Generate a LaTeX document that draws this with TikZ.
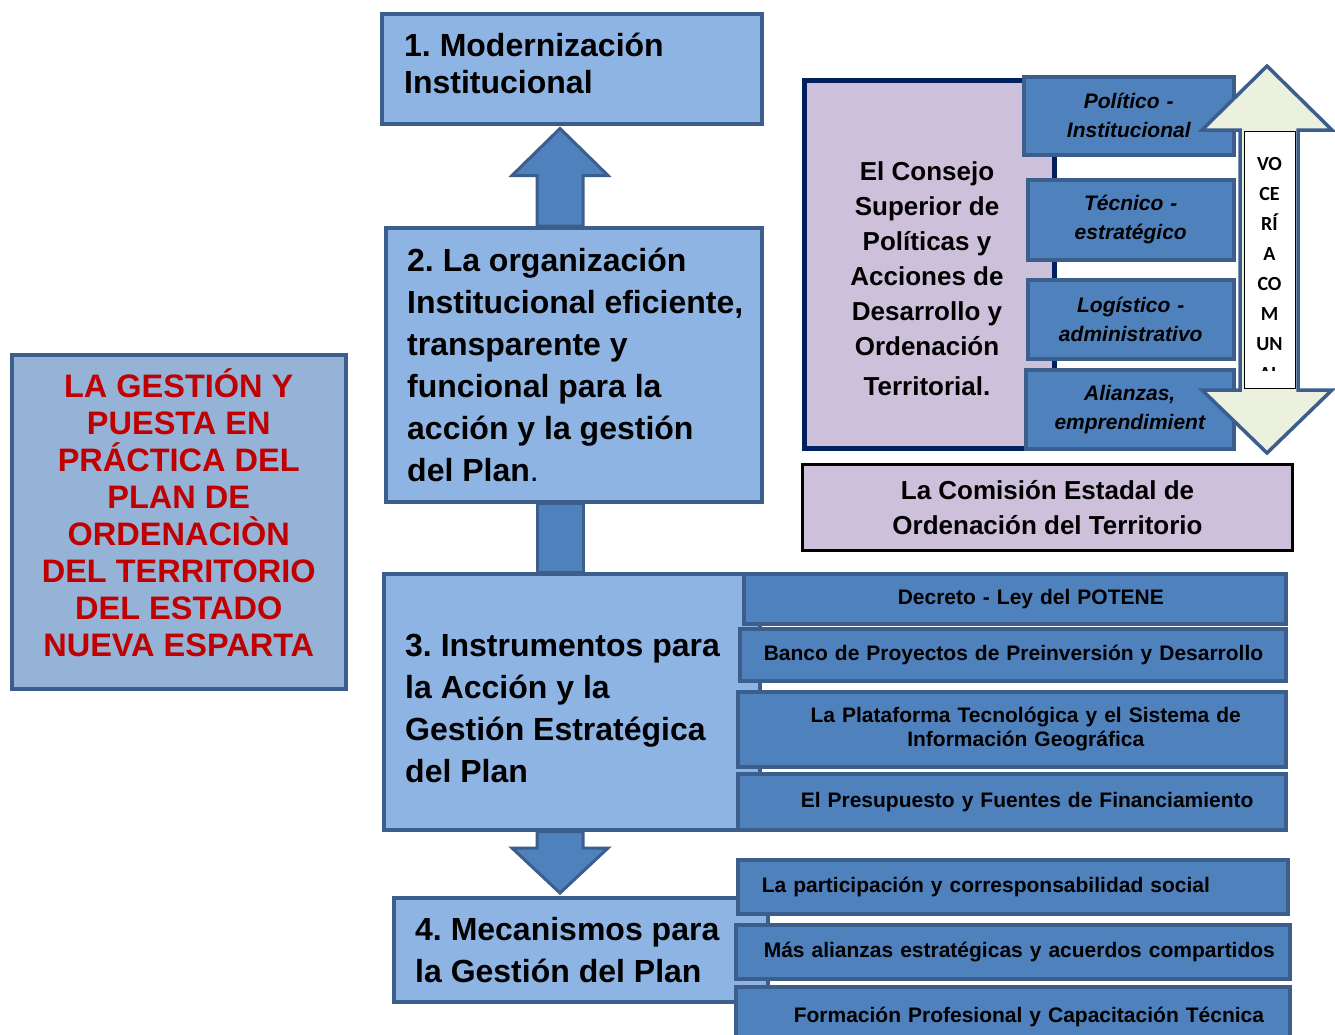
\documentclass[tikz,border=0pt]{standalone}
\usepackage{fontspec}
\setmainfont{Liberation Sans}
\newfontfamily\voicefont{Carlito}
\usetikzlibrary{calc}
\frenchspacing

\definecolor{paleblue}{HTML}{8EB4E3}
\definecolor{greyblue}{HTML}{95B3D7}
\definecolor{midblue}{HTML}{4F81BD}
\definecolor{edgeblue}{HTML}{3B5E8C}
\definecolor{lilac}{HTML}{CCC0DA}
\definecolor{navy}{HTML}{002060}
\definecolor{darkred}{HTML}{C00000}
\definecolor{palegreen}{HTML}{EBF1DE}

\tikzset{
  stage/.style={draw=edgeblue, fill=paleblue, line width=3.5pt, anchor=north west, inner sep=0pt},
  stagetext/.style={anchor=west, align=left, inner sep=0pt, font=\bfseries\fontsize{32}{42}\selectfont},
  subbox/.style={draw=edgeblue, fill=midblue, line width=3.5pt, anchor=north west, inner xsep=0pt, inner ysep=0pt, align=left, font=\bfseries\fontsize{21}{24}\selectfont},
  sidebox/.style={subbox, align=center, font=\bfseries\itshape\fontsize{21}{29}\selectfont},
  blockarrow/.style={draw=edgeblue, fill=midblue, line width=3pt, line join=miter},
}

\begin{document}
\begin{tikzpicture}[x=1pt, y=-1pt]
  \useasboundingbox (0,0) rectangle (1335,1034);
  \coordinate (spine) at (560,0);

  % main column
  \node[stage, minimum width=380pt, minimum height=110pt] (b1) at (380,12) {};
  \node[stage, minimum width=376pt, minimum height=274pt] (b2) at (384,226) {};
  \node[stage, minimum width=376pt, minimum height=256pt] (b3) at (382,572) {};
  \node[stage, minimum width=374pt, minimum height=104pt] (b4) at (392,896) {};

  \draw[blockarrow] ($(spine |- b2.north)+(-23,0)$) |- ($(spine |- b1.south)+(-48,50)$)
    -- ($(spine |- b1.south)+(0,3)$) -- ($(spine |- b1.south)+(48,50)$) -| ($(spine |- b2.north)+(23,0)$) -- cycle;
  \draw[blockarrow] ($(spine |- b2.south)+(-23,0)$) rectangle ($(spine |- b3.north)+(23,0)$);
  \draw[blockarrow] ($(spine |- b3.south)+(-23,0)$) |- ($(spine |- b4.north)+(-48,-48)$)
    -- ($(spine |- b4.north)+(0,-3)$) -- ($(spine |- b4.north)+(48,-48)$) -| ($(spine |- b3.south)+(23,0)$) -- cycle;

  \node[stagetext, font=\bfseries\fontsize{32}{37}\selectfont] (b1t) at ($(b1.west)+(24,-5.5)$)
    {1. Modernización\\Institucional};
  \node[stagetext] (b2t) at ($(b2.west)+(23,0)$)
    {2. La organización\\Institucional eficiente,\\transparente y\\funcional para la\\acción y la gestión\\del Plan{\mdseries.}};
  \node[stagetext] (b3t) at ($(b3.west)+(23,7)$)
    {3. Instrumentos para\\la Acción y la\\Gestión Estratégica\\del Plan};
  \node[stagetext] (b4t) at ($(b4.west)+(23,0)$)
    {4. Mecanismos para\\la Gestión del Plan};

  % title box
  \node[stage, fill=greyblue, minimum width=334pt, minimum height=334pt] (goal) at (10,353) {};
  \node[align=center, inner sep=0pt, text=darkred, font=\bfseries\fontsize{32.5}{37}\selectfont] (goalt)
    at ($(goal.center)+(0,-9.5)$)
    {LA GESTIÓN Y\\PUESTA EN\\PRÁCTICA DEL\\PLAN DE\\ORDENACIÒN\\DEL TERRITORIO\\DEL ESTADO\\NUEVA ESPARTA};

  % council
  \node[draw=navy, fill=lilac, line width=5pt, anchor=north west, minimum width=250pt, minimum height=368pt] (council) at (802,78) {};
  \node[align=center, inner sep=0pt, font=\bfseries\fontsize{26}{35}\selectfont] (councilt) at ($(council.west)+(125,14.5)$)
    {El Consejo\\Superior de\\Políticas y\\Acciones de\\Desarrollo y\\Ordenación\\[5pt]Territorial.};
  \node[sidebox, text width=210pt, minimum height=78pt] (pol) at (1022,75) {Político -\\Institucional};
  \node[sidebox, text width=206pt, minimum height=80pt] (tec) at (1026,178) {Técnico -\\estratégico};
  \node[sidebox, text width=206pt, minimum height=79pt] (log) at (1026,278) {Logístico -\\administrativo};
  \node[sidebox, text width=208pt, minimum height=79pt] (ali) at (1024,368) {Alianzas,\\emprendimient};

  \draw[draw=edgeblue, fill=palegreen, line width=3.5pt, line join=miter]
    (1267,66) -- (1332,130) -- (1298,130) -- (1298,390) -- (1332,390) -- (1267,453)
    -- (1202,390) -- (1240,390) -- (1240,130) -- (1202,130) -- cycle;
  \node[draw=black, fill=white, line width=1pt, minimum width=51pt, minimum height=257pt, inner sep=0pt] (voc) at (1269.5,259.5) {};
  \begin{scope}
    \clip ($(voc.north west)+(0,2)$) rectangle ($(voc.south east)+(0,-18)$);
    \node[anchor=north, align=center, inner sep=0pt, font=\voicefont\bfseries\fontsize{20}{30}\selectfont] (voct)
      at ($(voc.north)+(0,27)$) {VO\\CE\\RÍ\\A\\CO\\M\\UN\\AL};
  \end{scope}

  \node[draw=black, fill=lilac, line width=3pt, anchor=north west, minimum width=490pt, minimum height=86pt,
    align=center, font=\bfseries\fontsize{26}{35}\selectfont] (board) at (801,463)
    {La Comisión Estadal de\\Ordenación del Territorio};

  % instruments
  \node[subbox, text width=542pt, minimum height=50pt] (dec) at (742,572) {\hspace*{154pt}Decreto - Ley del POTENE};
  \node[subbox, text width=546pt, minimum height=52pt] (ban) at (738,627) {\hspace*{24pt}Banco de Proyectos de Preinversión y Desarrollo};
  \node[subbox, text width=548pt, minimum height=75pt, align=center] (pla) at (736,690)
    {\hspace*{28pt}La Plataforma Tecnológica y el Sistema de\\\hspace*{28pt}Información Geográfica};
  \node[subbox, text width=548pt, minimum height=56pt] (pre) at (736,772) {\hspace*{63pt}El Presupuesto y Fuentes de Financiamiento};

  % mechanisms
  \node[subbox, text width=550pt, minimum height=54pt] (par) at (736,858) {\hspace*{24pt}La participación y corresponsabilidad social};
  \node[subbox, text width=554pt, minimum height=54pt] (mas) at (734,923) {\hspace*{28pt}Más alianzas estratégicas y acuerdos compartidos};
  \node[subbox, text width=554pt, minimum height=60pt] (for) at (734,985) {\hspace*{58pt}Formación Profesional y Capacitación Técnica};
\end{tikzpicture}
\end{document}
